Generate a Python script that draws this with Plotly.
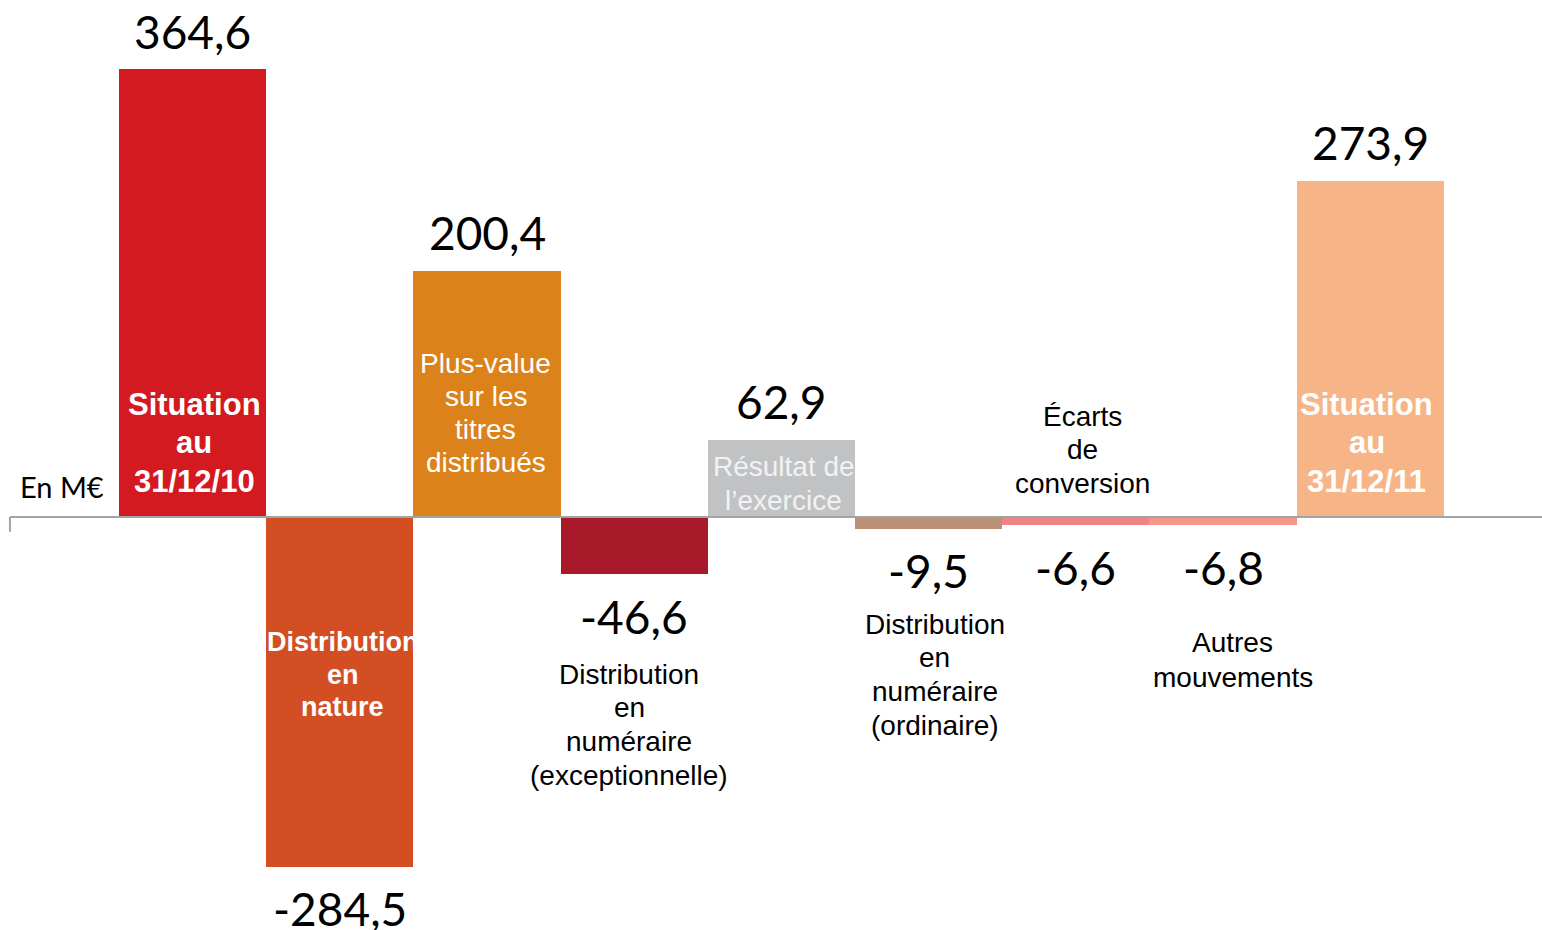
import plotly.graph_objects as go

# ---- data ----
categories = ["Situation au 31/12/10", "Distribution en nature", "Plus-value sur les titres distribués",
              "Distribution en numéraire (exceptionnelle)", "Résultat de l'exercice",
              "Distribution en numéraire (ordinaire)", "Écarts de conversion", "Autres mouvements",
              "Situation au 31/12/11"]
values = [364.6, -284.5, 200.4, -46.6, 62.9, -9.5, -6.6, -6.8, 273.9]
value_labels = ["364,6", "-284,5", "200,4", "-46,6", "62,9", "-9,5", "-6,6", "-6,8", "273,9"]
bar_colors = ["#D31A20", "#D44E24", "#DB821B", "#A8192A", "#C1C2C4",
              "#BC8F77", "#F08484", "#F4978A", "#F7B587"]
cat_lines = [["Situation", "au", "31/12/10"],
             ["Distribution", "en", "nature"],
             ["Plus-value", "sur les", "titres", "distribués"],
             ["Distribution", "en", "numéraire", "(exceptionnelle)"],
             ["Résultat de", "l’exercice"],
             ["Distribution", "en", "numéraire", "(ordinaire)"],
             ["Écarts", "de", "conversion"],
             ["Autres", "mouvements"],
             ["Situation", "au", "31/12/11"]]
# label layout: data-y of first line centre, line step (data units), colour, size, bold, x shift
cat_first_y = [92.0, -101.7, 125.3, -127.8, 41.5, -87.1, 82.2, -102.5, 92.0]
cat_step = [31.4, 26.5, 27.1, 27.4, 27.7, 27.4, 27.3, 27.7, 31.4]
cat_text_color = ["white", "white", "white", "black", "#F2F2F2", "black", "black", "black", "white"]
cat_text_size = [31, 27, 28, 28, 28, 28, 28, 28, 31]
cat_text_bold = [True, True, False, False, False, False, False, False, True]
cat_text_dx = [1.5, 3, -1.5, -5, 2.5, 6, 7, 9.5, -3.5]

x = list(range(len(categories)))

fig = go.Figure()
fig.add_trace(go.Bar(
    x=x, y=values, width=1.0,
    marker=dict(color=bar_colors, line=dict(width=0)),
    hovertext=categories, hoverinfo="text+y",
    showlegend=False,
))

annotations = []
for i, v in enumerate(values):
    annotations.append(dict(
        x=i, y=v, xref="x", yref="y", text=value_labels[i], showarrow=False,
        yshift=38 if v > 0 else -42, yanchor="middle", xanchor="center",
        font=dict(family="Lato", size=46, color="black"),
    ))
    for k, line in enumerate(cat_lines[i]):
        annotations.append(dict(
            x=i, y=cat_first_y[i] - k * cat_step[i], xref="x", yref="y",
            text=("<b>%s</b>" % line) if cat_text_bold[i] else line,
            showarrow=False, xanchor="center", yanchor="middle", xshift=cat_text_dx[i],
            font=dict(family="Liberation Sans, Arial", size=cat_text_size[i], color=cat_text_color[i]),
        ))

annotations.append(dict(
    x=-1.187, y=25.2, xref="x", yref="y", text="En M€", showarrow=False,
    xanchor="left", yanchor="middle",
    font=dict(family="Lato", size=29, color="black"),
))

fig.update_layout(
    width=1542, height=930,
    margin=dict(l=0, r=0, t=0, b=0),
    paper_bgcolor="white", plot_bgcolor="white",
    bargap=0,
    xaxis=dict(range=[-1.309, 9.167], visible=False),
    yaxis=dict(range=[-336.1, 420.8], visible=False),
    annotations=annotations,
    shapes=[
        dict(type="line", xref="x", yref="y", x0=-1.2415, x1=9.167, y0=0, y1=0,
             line=dict(color="#A3A3A3", width=2), layer="above"),
        dict(type="line", xref="x", yref="y", x0=-1.2415, x1=-1.2415, y0=0, y1=-12,
             line=dict(color="#A3A3A3", width=2), layer="above"),
    ],
)

fig.write_html("out.html", config={"displayModeBar": False},
               post_script="document.body.style.margin='0px';")
